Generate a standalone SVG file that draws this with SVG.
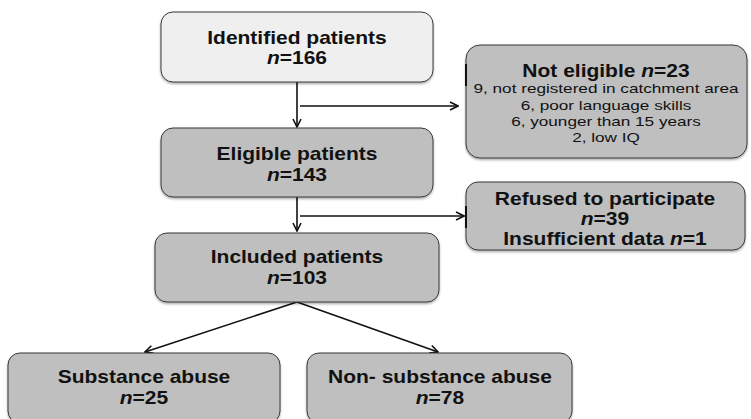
<svg xmlns="http://www.w3.org/2000/svg" width="751" height="419" viewBox="0 0 751 419">
<style>
.box{stroke:#3a3a3a;stroke-width:1;fill:#bfbfbf}
.light{fill:#efefef}
.t{font-family:"Liberation Sans",Arial,sans-serif;font-weight:bold;font-size:17.5px;fill:#111;text-anchor:middle}
.s{font-family:"Liberation Sans",Arial,sans-serif;font-size:13.2px;fill:#111;text-anchor:middle}
.c{stroke:#111;stroke-width:1.6;fill:none}
</style>
<defs>
<marker id="ah" viewBox="0 0 10 10" refX="9" refY="5" markerWidth="10" markerHeight="10" markerUnits="userSpaceOnUse" orient="auto">
<path d="M1,1 L9,5 L1,9" fill="none" stroke="#111" stroke-width="1.6"/>
</marker>
<filter id="sh" x="-10%" y="-10%" width="120%" height="130%">
<feDropShadow dx="0" dy="1.5" stdDeviation="1" flood-color="#000" flood-opacity="0.35"/>
</filter>
</defs>
<g id="connectors">
<line class="c" x1="297" y1="82" x2="297" y2="127" marker-end="url(#ah)"/>
<line class="c" x1="300" y1="106" x2="458" y2="106" marker-end="url(#ah)"/>
<line class="c" x1="297" y1="197" x2="297" y2="231" marker-end="url(#ah)"/>
<line class="c" x1="300" y1="216" x2="464" y2="216" marker-end="url(#ah)"/>
<line class="c" x1="297" y1="302" x2="145" y2="352" marker-end="url(#ah)"/>
<line class="c" x1="297" y1="302" x2="438" y2="352" marker-end="url(#ah)"/>
</g>
<g id="identified">
<rect class="box light" x="161" y="12" width="272" height="70" rx="12" filter="url(#sh)"/>
<text class="t" transform="translate(297 43.5) scale(1.2 1)">Identified patients</text>
<text class="t" transform="translate(297 63.5) scale(1.2 1)"><tspan font-style="italic">n</tspan>=166</text>
</g>
<g id="eligible">
<rect class="box" x="161" y="128" width="272" height="69" rx="12" filter="url(#sh)"/>
<text class="t" transform="translate(297 160) scale(1.2 1)">Eligible patients</text>
<text class="t" transform="translate(297 180.5) scale(1.2 1)"><tspan font-style="italic">n</tspan>=143</text>
</g>
<g id="noteligible">
<rect class="box" x="466" y="45" width="281" height="113" rx="14" filter="url(#sh)"/>
<line x1="466" y1="64" x2="466" y2="86" stroke="#111" stroke-width="2"/>
<text class="t" transform="translate(606 76.5) scale(1.2 1)">Not eligible <tspan font-style="italic">n</tspan>=23</text>
<text class="s" transform="translate(606 93.3) scale(1.3 1)">9, not registered in catchment area</text>
<text class="s" transform="translate(606 109.5) scale(1.3 1)">6, poor language skills</text>
<text class="s" transform="translate(606 125.7) scale(1.3 1)">6, younger than 15 years</text>
<text class="s" transform="translate(606 141.7) scale(1.3 1)">2, low IQ</text>
</g>
<g id="refused">
<rect class="box" x="466" y="182" width="279" height="68" rx="12" filter="url(#sh)"/>
<line x1="466" y1="206" x2="466" y2="228" stroke="#111" stroke-width="2"/>
<text class="t" transform="translate(605 204.5) scale(1.2 1)">Refused to participate</text>
<text class="t" transform="translate(605 224.5) scale(1.2 1)"><tspan font-style="italic">n</tspan>=39</text>
<text class="t" transform="translate(605 244.5) scale(1.2 1)">Insufficient data <tspan font-style="italic">n</tspan>=1</text>
</g>
<g id="included">
<rect class="box" x="155" y="233" width="284" height="69" rx="12" filter="url(#sh)"/>
<text class="t" transform="translate(297 263.3) scale(1.2 1)">Included patients</text>
<text class="t" transform="translate(297 283.8) scale(1.2 1)"><tspan font-style="italic">n</tspan>=103</text>
</g>
<g id="substance">
<rect class="box" x="8" y="353" width="272" height="70" rx="12" filter="url(#sh)"/>
<text class="t" transform="translate(144 383.3) scale(1.2 1)">Substance abuse</text>
<text class="t" transform="translate(144 404) scale(1.2 1)"><tspan font-style="italic">n</tspan>=25</text>
</g>
<g id="nonsubstance">
<rect class="box" x="307" y="353" width="265" height="70" rx="12" filter="url(#sh)"/>
<text class="t" transform="translate(440 383.3) scale(1.2 1)">Non- substance abuse</text>
<text class="t" transform="translate(440 404) scale(1.2 1)"><tspan font-style="italic">n</tspan>=78</text>
</g>
</svg>
